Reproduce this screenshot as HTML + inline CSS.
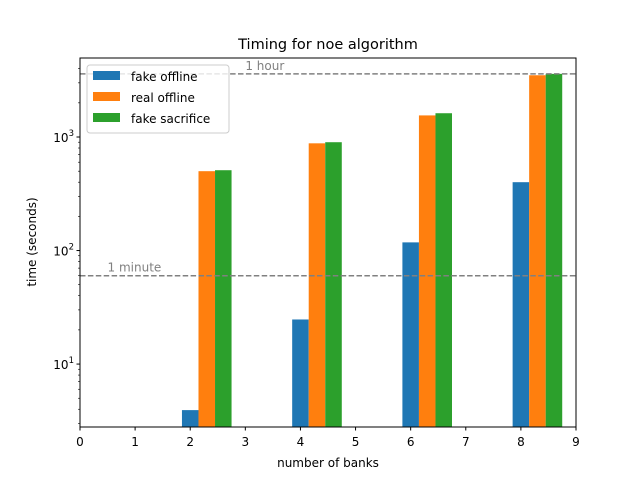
<!DOCTYPE html>
<html><head><meta charset="utf-8"><style>
body{margin:0;background:#fff;font-family:"DejaVu Sans","Liberation Sans",sans-serif;}
svg text{font-family:"DejaVu Sans","Liberation Sans",sans-serif;}
</style></head><body>
<svg id="chart" width="640" height="480" viewBox="0 0 640 480" xmlns="http://www.w3.org/2000/svg">
<rect width="640" height="480" fill="#fff"/>
<g id="marks"></g>
<rect x="80" y="58" width="496" height="369" fill="none" stroke="#000" stroke-width="1"/>
<g id="ticks"></g>
<text x="328" y="49" font-size="14.5" text-anchor="middle">Timing for noe algorithm</text>
<text x="328" y="467" font-size="12" text-anchor="middle">number of banks</text>
<text transform="translate(36,242) rotate(-90)" font-size="12" text-anchor="middle">time (seconds)</text>
<g>
<rect x="87" y="65" width="142" height="68" rx="3" fill="#fff" fill-opacity="0.8" stroke="#ccc"/>
<rect x="93" y="71" width="27" height="9" fill="#1f77b4"/>
<text x="131" y="81" font-size="12">fake offline</text>
<rect x="93" y="92" width="27" height="9" fill="#ff7f0e"/>
<text x="131" y="102" font-size="12">real offline</text>
<rect x="93" y="113" width="27" height="9" fill="#2ca02c"/>
<text x="131" y="123" font-size="12">fake sacrifice</text>
</g>
</svg>
<script>
const categories=[2,4,6,8];
const fakeOffline=[3.93,24.7,118,400];
const realOffline=[500,880,1550,3500];
const fakeSacrifice=[510,900,1620,3600];
const refValues=[60,3600];
const refLabels=["1 minute","1 hour"];
const xTicks=[0,1,2,3,4,5,6,7,8,9];
const yTicks=[1,2,3];

const NS="http://www.w3.org/2000/svg";
const x0=80,x1=576,xMin=0,xMax=9;
const yTop=58,yBot=427,logMin=Math.log10(2.79),logMax=Math.log10(4966);
function X(v){return x0+(v-xMin)/(xMax-xMin)*(x1-x0);}
function Y(v){return yBot-(Math.log10(v)-logMin)/(logMax-logMin)*(yBot-yTop);}
function mk(tag,attrs,parent){const e=document.createElementNS(NS,tag);for(const k in attrs)e.setAttribute(k,attrs[k]);parent.appendChild(e);return e;}
const marks=document.getElementById('marks'),ticks=document.getElementById('ticks');
const series=[[fakeOffline,'#1f77b4','fake-offline',0],[realOffline,'#ff7f0e','real-offline',0.3],[fakeSacrifice,'#2ca02c','fake-sacrifice',0.6]];
const bw=0.3;
series.forEach(s=>{categories.forEach((c,i)=>{
  const left=X(c+s[3]-bw/2),right=X(c+s[3]+bw/2),top=Y(s[0][i]);
  const r=mk('rect',{x:left,y:top,width:right-left,height:yBot-top,fill:s[1]},marks);
  
  
});});
refValues.forEach((v,i)=>{
  const l=mk('line',{x1:x0,x2:x1,y1:Y(v),y2:Y(v),stroke:'#808080','stroke-width':1.5,'stroke-dasharray':'5.5,2.4'},marks);
  
  
  const t=mk('text',{x:i==0?X(0.5):X(3),y:Y(v)-4,'font-size':12,fill:'#808080'},marks);
  t.textContent=refLabels[i];
  
  
});
xTicks.forEach(v=>{
  mk('line',{x1:X(v),x2:X(v),y1:yBot,y2:yBot+3.5,stroke:'#000'},ticks);
  const t=mk('text',{x:X(v),y:yBot+19,'font-size':12,'text-anchor':'middle'},ticks);
  t.textContent=v;
  
  
});
yTicks.forEach(p=>{
  const y=Y(Math.pow(10,p));
  mk('line',{x1:x0-3.5,x2:x0,y1:y,y2:y,stroke:'#000'},ticks);
  const t=mk('text',{x:x0-6,y:y+5,'font-size':12,'text-anchor':'end'},ticks);
  t.innerHTML='10<tspan dy="-6" font-size="8.5">'+p+'</tspan>';
  
  
});
for(let p=0;p<=3;p++)for(let m=2;m<=9;m++){const v=m*Math.pow(10,p);if(v<2.79||v>4966)continue;
  const y=Y(v);mk('line',{x1:x0-2,x2:x0,y1:y,y2:y,stroke:'#000','stroke-width':0.6},ticks);}
</script>
</body></html>
